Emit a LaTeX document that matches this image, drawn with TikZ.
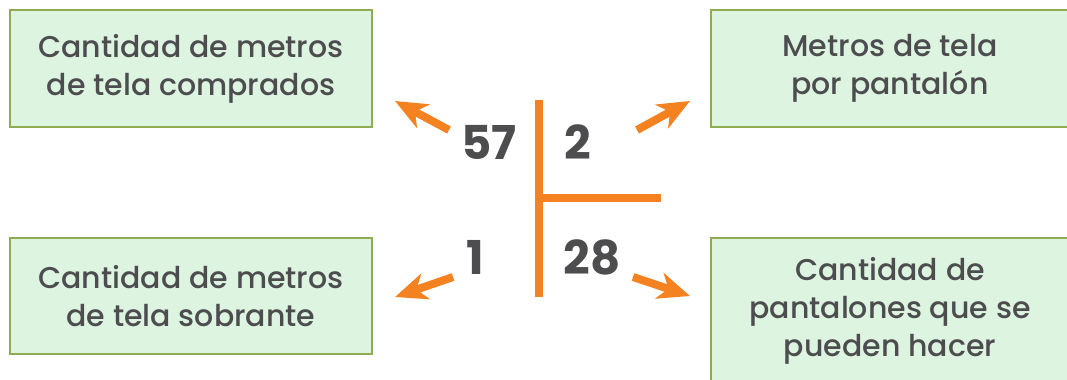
\documentclass[tikz,border=0pt]{standalone}
\usepackage{fontspec}
\setmainfont{Poppins}
\newfontfamily\mediumfont{Poppins Medium}
\usepackage{tikz}
\usetikzlibrary{positioning,arrows.meta}
\usepackage{xcolor}
\definecolor{boxfill}{RGB}{221, 244, 225}
\definecolor{boxline}{RGB}{143, 172, 82}
\definecolor{divorange}{RGB}{245, 130, 32}
\definecolor{textgray}{RGB}{77, 77, 79}

\begin{document}
\begin{tikzpicture}[
    x=0.75pt, y=-0.75pt,
    infobox/.style={draw=boxline, fill=boxfill, line width=2.2pt, align=center, text=textgray,
        font=\mediumfont\fontsize{22.5}{28.5}\selectfont, inner sep=0pt},
    number/.style={text=textgray, font=\fontsize{35}{35}\selectfont\bfseries, inner sep=0pt},
    divline/.style={draw=divorange, line width=5.5pt},
    pointer/.style={-{Stealth[length=24pt, width=20pt, inset=7pt]}, draw=divorange, fill=divorange, line width=6pt}
]
    \clip (0,0) rectangle (1067,379);

    % Boxes
    \node[infobox, minimum width=362*0.75pt, minimum height=117*0.75pt] (bought) at (191, 68.5)
        {Cantidad de metros\\de tela comprados};
    \node[infobox, minimum width=358*0.75pt, minimum height=117*0.75pt] (per) at (890, 68.5)
        {Metros de tela\\por pantalón};
    \node[infobox, minimum width=362*0.75pt, minimum height=116*0.75pt] (left) at (191, 296)
        {Cantidad de metros\\de tela sobrante};
    \node[infobox, minimum width=358*0.75pt, minimum height=146*0.75pt] (made) at (890, 311)
        {Cantidad de\\pantalones que se\\pueden hacer};

    % Division
    \node[number] (dividend) at (489, 142) {57};
    \node[number] (divisor) at (578, 142) {2};
    \node[number] (remainder) at (475, 257) {1};
    \node[number] (quotient) at (592, 257) {28};

    \coordinate (bartop) at (539, 100);
    \coordinate (barbot) at (539, 297);
    \coordinate (barmid) at (539, 198);
    \coordinate (barend) at (661, 198);
    \draw[divline] (bartop) -- (barbot);
    \draw[divline] (barmid) -- (barend);

    % Arrows
    \coordinate (a1) at (449, 130); \coordinate (b1) at (395, 101);
    \coordinate (a2) at (637, 130); \coordinate (b2) at (690, 101);
    \coordinate (a3) at (453, 277); \coordinate (b3) at (395, 297);
    \coordinate (a4) at (633, 277); \coordinate (b4) at (690, 296);
    \draw[pointer] (a1) -- (b1);
    \draw[pointer] (a2) -- (b2);
    \draw[pointer] (a3) -- (b3);
    \draw[pointer] (a4) -- (b4);
\end{tikzpicture}
\end{document}
